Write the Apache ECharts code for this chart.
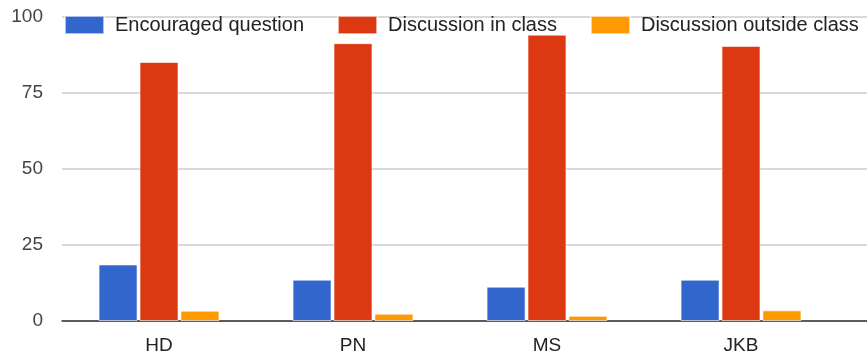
<!DOCTYPE html>
<html>
<head>
<meta charset="utf-8">
<script src="https://cdn.jsdelivr.net/npm/echarts@6/dist/echarts.min.js"></script>
<style>
  html, body { margin: 0; padding: 0; background: #fff; }
  #chart { width: 867px; height: 356px; }
</style>
</head>
<body>
<div id="chart"></div>
<script>
const categories = ['HD', 'PN', 'MS', 'JKB'];
const encouraged = [18.6, 13.6, 11.3, 13.6];
const inClass = [85.2, 91.4, 94.2, 90.5];
const outsideClass = [3.4, 2.4, 1.7, 3.5];
const yTicks = { min: 0, max: 100, interval: 25 };

const chart = echarts.init(document.getElementById('chart'));
const font = 'Liberation Sans, Arial, sans-serif';

const barBorder = { borderColor: 'rgba(255,255,255,0.6)', borderWidth: 1 };

chart.setOption({
  animation: false,
  textStyle: { fontFamily: font },
  legend: {
    top: 15,
    left: 64,
    padding: 0,
    itemWidth: 39,
    itemHeight: 18,
    itemGap: 33,
    icon: 'rect',
    textStyle: { fontSize: 20, color: '#222', fontFamily: font, padding: [0, 0, 0, 6] },
    data: ['Encouraged question', 'Discussion in class', 'Discussion outside class']
  },
  grid: [
    { left: 62, right: 29, top: 17, bottom: 35 },
    { left: 62, right: 0, top: 17, bottom: 35 }
  ],
  xAxis: [
    {
      type: 'category',
      gridIndex: 0,
      data: categories,
      axisTick: { show: false },
      axisLine: { show: false },
      axisLabel: { fontSize: 19, color: '#222', margin: 15 }
    },
    {
      type: 'value',
      gridIndex: 1,
      show: true,
      axisLabel: { show: false },
      axisTick: { show: false },
      splitLine: { show: false },
      axisLine: { show: true, onZero: false, lineStyle: { color: '#333', width: 1.5 } }
    }
  ],
  yAxis: [
    {
      type: 'value',
      gridIndex: 0,
      min: yTicks.min, max: yTicks.max, interval: yTicks.interval,
      axisLine: { show: false },
      axisTick: { show: false },
      splitLine: { show: false },
      axisLabel: { fontSize: 19, color: '#444', margin: 19 }
    },
    {
      type: 'value',
      gridIndex: 1,
      min: yTicks.min, max: yTicks.max, interval: yTicks.interval,
      axisLine: { show: false },
      axisTick: { show: false },
      axisLabel: { show: false },
      splitLine: { lineStyle: { color: '#cccccc', width: 1.5 } }
    }
  ],
  series: [
    {
      name: 'Encouraged question',
      type: 'bar',
      data: encouraged,
      barWidth: 39,
      barGap: '5%',
      itemStyle: Object.assign({ color: '#3366cc' }, barBorder),
      z: 3
    },
    {
      name: 'Discussion in class',
      type: 'bar',
      data: inClass,
      barWidth: 39,
      barGap: '5%',
      itemStyle: Object.assign({ color: '#dc3912' }, barBorder),
      z: 3
    },
    {
      name: 'Discussion outside class',
      type: 'bar',
      data: outsideClass,
      barWidth: 39,
      barGap: '5%',
      itemStyle: Object.assign({ color: '#ff9900' }, barBorder),
      z: 3
    }
  ]
});
</script>
</body>
</html>
